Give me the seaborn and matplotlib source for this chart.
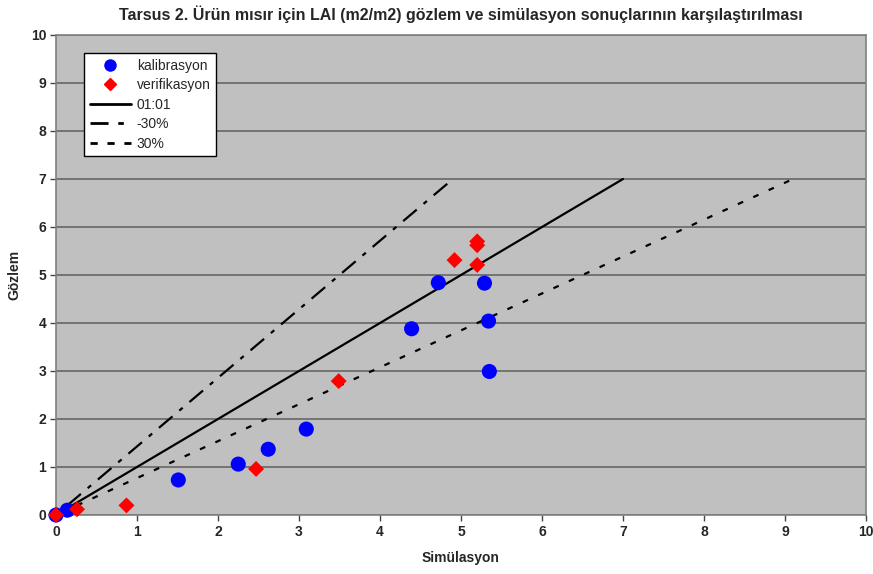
import matplotlib
matplotlib.use("Agg")
import matplotlib.pyplot as plt
import seaborn as sns
import pandas as pd
from matplotlib.lines import Line2D

# ---- data ----
kal_x = [0.0, 0.14, 1.51, 2.25, 2.62, 3.09, 4.39, 4.72, 5.29, 5.34, 5.35]
kal_y = [0.0, 0.10, 0.73, 1.06, 1.37, 1.79, 3.88, 4.84, 4.83, 4.04, 2.99]
ver_x = [0.0, 0.26, 0.87, 2.47, 3.49, 4.92, 5.20, 5.20, 5.20]
ver_y = [0.0, 0.12, 0.20, 0.96, 2.79, 5.31, 5.21, 5.62, 5.70]
line_y = [0.2, 7.0]
one_x = [0.2, 7.0]
minus_x = [0.14, 4.9]
plus_x = [0.26, 9.1]

title = "Tarsus 2. Ürün mısır için LAI (m2/m2) gözlem ve simülasyon sonuçlarının karşılaştırılması"
xlabel = "Simülasyon"
ylabel = "Gözlem"
ticks = list(range(0, 11))

sns.set_style("ticks", {"axes.facecolor": "#C0C0C0"})
plt.rcParams["font.family"] = ["Liberation Sans", "DejaVu Sans"]

fig = plt.figure(figsize=(8.73, 5.74), dpi=100)
ax = fig.add_axes([56 / 873, 59 / 574, 810 / 873, 480 / 574])
ax.set_facecolor("#C0C0C0")

for y in ticks:
    ax.axhline(y, color="#6E6E6E", lw=1.3, zorder=1)

dash_m = (0, (8, 4, 2, 4))
dash_p = (0, (2.6, 5))
lines = pd.DataFrame({
    "x": one_x + minus_x + plus_x,
    "y": line_y * 3,
    "g": ["01:01"] * 2 + ["-30%"] * 2 + ["30%"] * 2,
})
styles = {"01:01": "-", "-30%": dash_m, "30%": dash_p}
for name in ["01:01", "-30%", "30%"]:
    sub = lines[lines.g == name]
    sns.lineplot(data=sub, x="x", y="y", color="black", lw=1.6, sort=False,
                 estimator=None, ax=ax, zorder=3)
    ax.lines[-1].set_linestyle(styles[name])

sns.scatterplot(x=kal_x, y=kal_y, color="#0000FF", marker="o", s=118,
                edgecolor="none", ax=ax, zorder=4, clip_on=False)
sns.scatterplot(x=ver_x, y=ver_y, color="#FF0000", marker="D", s=66,
                edgecolor="none", ax=ax, zorder=5, clip_on=False)

ax.set_xlim(0, 10)
ax.set_ylim(0, 10)
ax.set_xticks(ticks)
ax.set_yticks(ticks)
ax.tick_params(axis="both", length=4, width=1, color="#444444", labelsize=10, pad=3)
for lab in ax.get_xticklabels() + ax.get_yticklabels():
    lab.set_fontweight("bold")
for sp in ax.spines.values():
    sp.set_visible(True)
    sp.set_color("#808080")
    sp.set_linewidth(1.2)

ax.set_xlabel(xlabel, fontsize=10, fontweight="bold", labelpad=9)
ax.set_ylabel(ylabel, fontsize=10, fontweight="bold")
ax.yaxis.set_label_coords(-0.0426, 0.5)
ax.set_title(title, fontsize=11.5, fontweight="bold", pad=11)

handles = [
    Line2D([], [], ls="none", marker="o", color="#0000FF", ms=8),
    Line2D([], [], ls="none", marker="D", color="#FF0000", ms=6),
    Line2D([], [], color="black", lw=2, ls="-"),
    Line2D([], [], color="black", lw=2, ls=(0, (6.5, 3.5, 2, 3.5))),
    Line2D([], [], color="black", lw=2, ls=(0, (2.6, 3.5))),
]
labels = ["kalibrasyon", "verifikasyon", "01:01", "-30%", "30%"]
leg = ax.legend(handles, labels, loc="upper left",
                bbox_to_anchor=(84 / 873, 1 - 53 / 574), bbox_transform=fig.transFigure,
                fontsize=10, frameon=True, fancybox=False, framealpha=1,
                edgecolor="black", facecolor="white", handlelength=3.0,
                handletextpad=0.4, labelspacing=0.4, borderpad=0.4,
                borderaxespad=0)
leg.get_frame().set_linewidth(1)
leg.set_zorder(10)

fig.savefig("out.png", dpi=100)
